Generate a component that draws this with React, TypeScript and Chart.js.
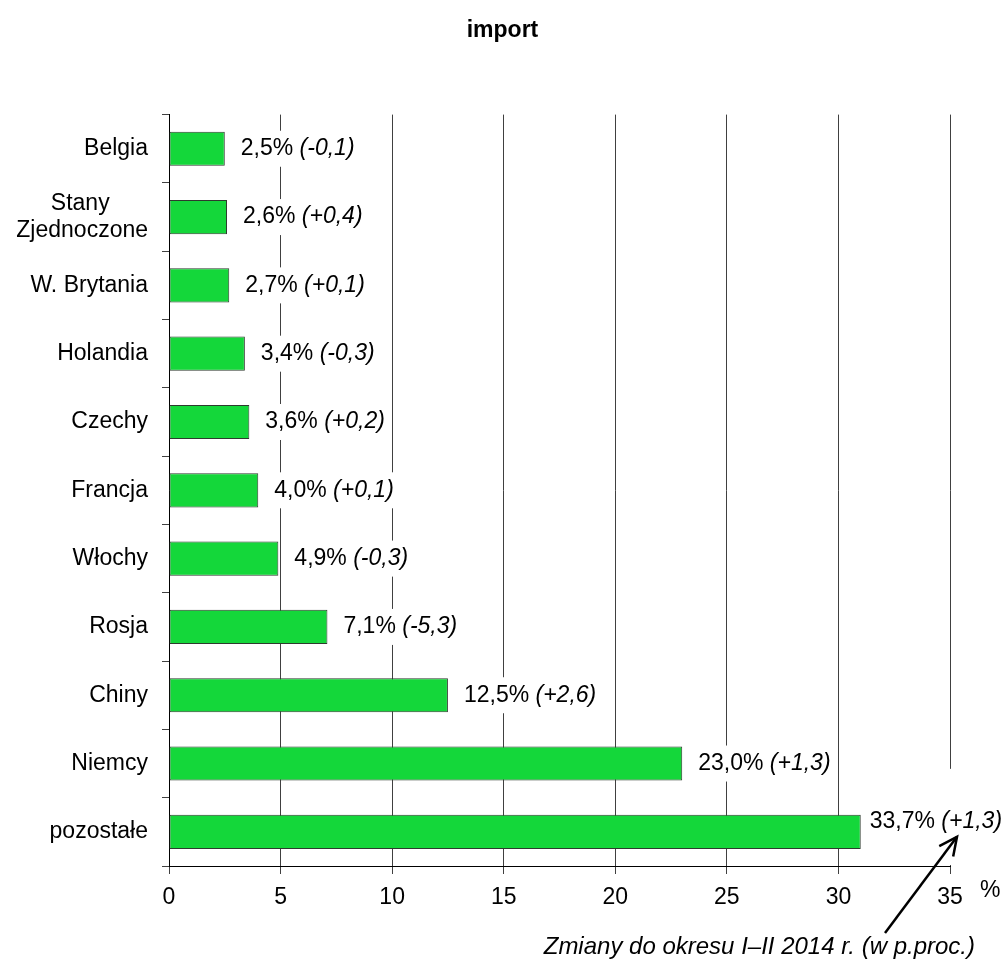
import { useEffect, useRef } from "react"
import { Chart, registerables } from "chart.js"

Chart.register(...registerables)

// Dane (od góry do dołu)
const categories = [
  "Belgia",
  ["Stany      ", "Zjednoczone"],
  "W. Brytania",
  "Holandia",
  "Czechy",
  "Francja",
  "Włochy",
  "Rosja",
  "Chiny",
  "Niemcy",
  "pozostałe",
]
const shares = [2.5, 2.6, 2.7, 3.4, 3.6, 4.0, 4.9, 7.1, 12.5, 23.0, 33.7]
const changes = [-0.1, 0.4, 0.1, -0.3, 0.2, 0.1, -0.3, -5.3, 2.6, 1.3, 1.3]
const xTicks = [0, 5, 10, 15, 20, 25, 30, 35]

// w oryginale najdłuższy słupek jest ucięty, żeby zmieścić etykietę
const BAR_CAP = 31

const FONT = "'Liberation Sans', Arial, sans-serif"
const GREEN = "#14d73a"
const GRID = "#404040"

const fmt = (v: number) => v.toFixed(1).replace(".", ",")
const fmtChange = (v: number) => (v > 0 ? "+" : "") + fmt(v)

const labelsPlugin = {
  id: "valueLabels",
  afterDatasetsDraw(chart: Chart) {
    const ctx = chart.ctx
    const meta = chart.getDatasetMeta(0)
    ctx.save()
    ctx.textBaseline = "middle"
    ctx.textAlign = "left"
    meta.data.forEach((bar: any, i: number) => {
      const main = fmt(shares[i]) + "% "
      const extra = "(" + fmtChange(changes[i]) + ")"
      ctx.font = `23px ${FONT}`
      const w1 = ctx.measureText(main).width
      ctx.font = `italic 23px ${FONT}`
      const w2 = ctx.measureText(extra).width
      const clipped = shares[i] > BAR_CAP
      const x = bar.x + (clipped ? 9 : 16)
      const y = bar.y - (clipped ? 10 : 0)

      ctx.fillStyle = "#ffffff"
      if (clipped) {
        ctx.fillRect(bar.x + 3, y - 53, w1 + w2 + 14, chart.chartArea.bottom - 1 - (y - 53))
      } else {
        ctx.fillRect(bar.x + 4, y - 18, w1 + w2 + 18, 36)
      }

      ctx.fillStyle = "#000000"
      ctx.font = `23px ${FONT}`
      ctx.fillText(main, x, y)
      ctx.font = `italic 23px ${FONT}`
      ctx.fillText(extra, x + w1, y)
    })
    ctx.restore()
  },
  afterDraw(chart: Chart) {
    const ctx = chart.ctx
    const area = chart.chartArea
    const meta = chart.getDatasetMeta(0)
    const last: any = meta.data[meta.data.length - 1]
    ctx.save()
    ctx.fillStyle = "#000000"
    ctx.textBaseline = "middle"

    // jednostka osi
    ctx.font = `23px ${FONT}`
    ctx.textAlign = "left"
    ctx.fillText("%", area.right + 30, area.bottom + 25)

    // opis zmian
    ctx.font = `italic 24px ${FONT}`
    ctx.textAlign = "right"
    ctx.fillText("Zmiany do okresu I–II 2014 r. (w p.proc.)", area.right + 25, area.bottom + 81)

    // strzałka
    const tipX = area.right + 7
    const tipY = last.y + 5
    const tailX = area.right - 65
    const tailY = area.bottom + 67
    ctx.strokeStyle = "#000000"
    ctx.lineWidth = 2.5
    ctx.beginPath()
    ctx.moveTo(tailX, tailY)
    ctx.lineTo(tipX, tipY)
    ctx.stroke()
    const ang = Math.atan2(tipY - tailY, tipX - tailX)
    const len = 20
    ctx.beginPath()
    ctx.moveTo(tipX - len * Math.cos(ang - 0.45), tipY - len * Math.sin(ang - 0.45))
    ctx.lineTo(tipX, tipY)
    ctx.lineTo(tipX - len * Math.cos(ang + 0.45), tipY - len * Math.sin(ang + 0.45))
    ctx.stroke()
    ctx.restore()
  },
}

export default function App() {
  const chartRef = useRef<HTMLCanvasElement>(null)
  const chartInstance = useRef<Chart | null>(null)

  useEffect(() => {
    document.body.style.margin = "0"
    if (!chartRef.current) return
    if (chartInstance.current) chartInstance.current.destroy()
    const ctx = chartRef.current.getContext("2d")
    if (!ctx) return

    chartInstance.current = new Chart(ctx, {
      type: "bar",
      data: {
        labels: categories as any,
        datasets: [
          {
            label: "import",
            data: shares.map((v) => Math.min(v, BAR_CAP)),
            backgroundColor: GREEN,
            borderColor: "#2e3a2e",
            borderWidth: 1,
            borderSkipped: false,
            barPercentage: 0.5,
            categoryPercentage: 1,
          },
        ],
      },
      options: {
        indexAxis: "y",
        animation: false,
        responsive: true,
        maintainAspectRatio: false,
        layout: { padding: 0 },
        plugins: {
          legend: { display: false },
          tooltip: { enabled: false },
          title: {
            display: true,
            text: "import",
            color: "#000000",
            font: { family: FONT, size: 23, weight: "bold" },
            padding: { top: 17, bottom: 70 },
          },
        },
        scales: {
          x: {
            type: "linear",
            min: 0,
            max: 35,
            afterBuildTicks: (scale: any) => {
              scale.ticks = xTicks.map((v) => ({ value: v }))
            },
            afterFit: (scale: any) => {
              scale.height = 93
              // miejsce po prawej na etykietę i znak %
              scale.paddingRight = 55
            },
            ticks: {
              color: "#000000",
              font: { family: FONT, size: 23 },
              padding: 10,
              maxRotation: 0,
            },
            grid: {
              color: GRID,
              lineWidth: 1,
              drawTicks: true,
              tickLength: 8,
            },
            border: { display: true, color: "#000000", width: 1 },
          },
          y: {
            afterFit: (scale: any) => {
              scale.width = 169
            },
            ticks: {
              color: "#000000",
              font: { family: FONT, size: 23 },
              padding: 14,
              autoSkip: false,
            },
            grid: {
              offset: true,
              drawOnChartArea: false,
              drawTicks: true,
              tickLength: 7,
              color: GRID,
            },
            border: { display: true, color: "#000000", width: 1 },
          },
        },
      },
      plugins: [labelsPlugin],
    })

    return () => {
      if (chartInstance.current) {
        chartInstance.current.destroy()
        chartInstance.current = null
      }
    }
  }, [])

  return (
    <div style={{ width: 1005, height: 959, position: "relative" }}>
      <canvas ref={chartRef} />
    </div>
  )
}
